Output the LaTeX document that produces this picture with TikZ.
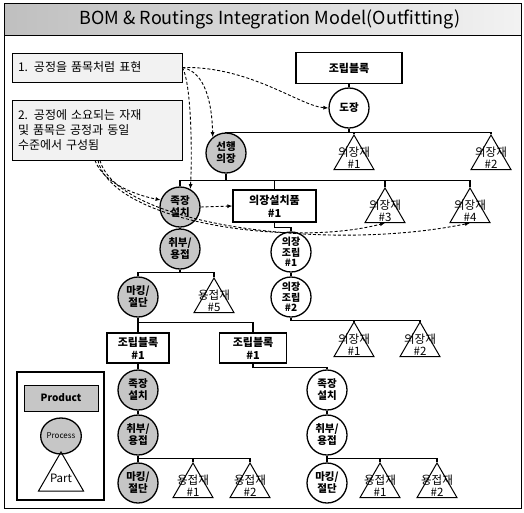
\documentclass[tikz,border=0pt]{standalone}
\usepackage{fontspec}
\setmainfont{Noto Sans CJK KR}
\usetikzlibrary{shapes.geometric,arrows.meta}

\begin{document}
\begin{tikzpicture}[x=1pt,y=-1pt,
  product/.style={draw,line width=1.3pt,fill=white,align=center,inner sep=0pt,
    font=\bfseries\fontsize{11}{13}\selectfont},
  process/.style={circle,draw,line width=1.3pt,fill=white,minimum size=40pt,inner sep=0pt,
    align=center,font=\bfseries\fontsize{10.5}{12}\selectfont},
  shaded/.style={fill=gray!45},
  part/.style={regular polygon,regular polygon sides=3,draw,line width=1pt,minimum size=46pt,
    inner sep=0pt,label={[parttext]center:#1}},
  parttext/.style={align=center,font=\fontsize{11.5}{12}\selectfont},
  note/.style={draw,line width=0.8pt,fill=gray!10,align=left,inner xsep=6pt,
    font=\fontsize{12}{15}\selectfont},
  link/.style={line width=1.1pt},
  hint/.style={dash pattern=on 3pt off 2pt,line width=0.9pt,-{Latex[length=5pt,width=4pt]}}]
  \useasboundingbox (0,0) rectangle (524,512);

  \fill[left color=gray!50,right color=gray!10] (4,3) rectangle (521,35);
  \draw[line width=0.8pt] (4,3) rectangle (521,508);
  \draw[line width=0.8pt] (4,35) -- (521,35);
  \node[font=\fontsize{18}{20}\selectfont] (title) at (270,19) {BOM \& Routings Integration Model(Outfitting)};

  \node[note,minimum width=170pt,minimum height=29pt,text width=158pt] (note1) at (97,67.5)
    {1. 공정을 품목처럼 표현};
  \node[note,minimum width=170pt,minimum height=60pt,text width=158pt] (note2) at (97,130)
    {2. 공정에 소요되는 자재\\및 품목은 공정과 동일\\수준에서 구성됨};

  \node[product,minimum width=106pt,minimum height=31pt] (blk) at (349,68) {조립블록};
  \node[process] (dojang) at (349,108) {도장};
  \node[process,shaded] (sunhaeng) at (226,153) {선행\\의장};
  \node[part={의장재\\\#1}] (u1) at (354,158) {};
  \node[part={의장재\\\#2}] (u2) at (491,158) {};
  \node[process,shaded] (jokjang1) at (180,207) {족장\\설치};
  \node[product,minimum width=83pt,minimum height=32pt] (uisul) at (274.5,206) {의장설치품\\\#1};
  \node[part={의장재\\\#3}] (u3) at (385,211) {};
  \node[part={의장재\\\#4}] (u4) at (470,211) {};
  \node[process,shaded] (chibu1) at (180,249) {취부/\\용접};
  \node[process,font=\bfseries\fontsize{10}{10.5}\selectfont] (uijo1) at (291,252) {의장\\조립\\\#1};
  \node[process,font=\bfseries\fontsize{10}{10.5}\selectfont] (uijo2) at (291,297) {의장\\조립\\\#2};
  \node[part={의장재\\\#1}] (u5) at (354,345) {};
  \node[part={의장재\\\#2}] (u6) at (420,345) {};
  \node[process,shaded] (marking1) at (138,297) {마킹/\\절단};
  \node[part={용접재\\\#5}] (y5) at (214,301) {};
  \node[product,minimum width=62pt,minimum height=30pt] (lblk) at (138,348) {조립블록\\\#1};
  \node[product,minimum width=67pt,minimum height=30pt] (rblk) at (253,348) {조립블록\\\#1};

  \node[process,shaded] (jokjang2) at (138,390) {족장\\설치};
  \node[process,shaded] (chibu2) at (138,435) {취부/\\용접};
  \node[process,shaded] (marking2) at (138,483) {마킹/\\절단};
  \node[part={용접재\\\#1}] (y1) at (193,486) {};
  \node[part={용접재\\\#2}] (y2) at (250,486) {};

  \node[process] (jokjang3) at (327,390) {족장\\설치};
  \node[process] (chibu3) at (327,435) {취부/\\용접};
  \node[process] (marking3) at (327,483) {마킹/\\절단};
  \node[part={용접재\\\#1}] (y3) at (380,486) {};
  \node[part={용접재\\\#2}] (y4) at (437,486) {};

  \draw[link] (blk) -- (dojang);
  \draw[link] (dojang.south) -- ++(0,4) coordinate (b1);
  \draw[link] (sunhaeng.north) |- (b1) -| (u2.north);
  \draw[link] (u1.north) -- (u1.north |- b1);
  \draw[link] (sunhaeng.south) -- ++(0,7) coordinate (b2);
  \draw[link] (jokjang1.north) |- (b2) -| (u4.north);
  \draw[link] (uisul.north) -- (uisul.north |- b2);
  \draw[link] (u3.north) -- (u3.north |- b2);
  \draw[link] (jokjang1) -- (chibu1);
  \draw[link] (uisul.south) -- ++(0,5) -| (uijo1.north);
  \draw[link] (uijo1) -- (uijo2);
  \draw[link] (uijo2.south) -- ++(0,3) coordinate (b3) -| (u6.north);
  \draw[link] (u5.north) -- (u5.north |- b3);
  \draw[link] (chibu1.south) -- ++(0,3) coordinate (b4);
  \draw[link] (marking1.north) |- (b4) -| (y5.north);
  \draw[link] (marking1.south) -- ++(0,5) coordinate (b5);
  \draw[link] (lblk.north) |- (b5) -| (rblk.north);
  \draw[link] (lblk) -- (jokjang2) -- (chibu2);
  \draw[link] (chibu2.south) -- ++(0,3) coordinate (b6);
  \draw[link] (marking2.north) |- (b6) -| (y2.north);
  \draw[link] (y1.north) -- (y1.north |- b6);
  \draw[link] (rblk.south) -- ++(0,4) -| (jokjang3.north);
  \draw[link] (jokjang3) -- (chibu3);
  \draw[link] (chibu3.south) -- ++(0,3) coordinate (b7);
  \draw[link] (marking3.north) |- (b7) -| (y4.north);
  \draw[link] (y3.north) -- (y3.north |- b7);

  \draw[hint] (note1.east) .. controls (250,66) and (300,106) .. (dojang.west);
  \draw[hint] (note1.east) .. controls (206,72) and (212,105) .. (sunhaeng.130);
  \draw[hint] (note1.east) .. controls (192,85) and (192,160) .. (jokjang1.60);
  \draw[hint] ([xshift=-2pt]note2.south) .. controls (104,185) and (140,196) .. (jokjang1.160);
  \draw[hint] ([xshift=1pt]note2.south) .. controls (112,222) and (290,248) .. (u3.south);
  \draw[hint] ([xshift=3pt]note2.south) .. controls (118,226) and (330,252) .. (u4.south);
  \draw[hint] (jokjang1.east) -- (uisul.west);

  \draw[line width=1.6pt] (17,372) rectangle (104,500);
  \node[draw,line width=1pt,shaded,minimum width=74pt,minimum height=26pt,
    font=\bfseries\fontsize{10}{12}\selectfont] (legprod) at (61,398) {Product};
  \node[ellipse,draw,line width=1.3pt,shaded,minimum width=40pt,minimum height=36pt,inner sep=0pt,
    font=\fontsize{8}{9}\selectfont] (legproc) at (61,436) {Process};
  \node[part={Part},minimum size=52pt] (legpart) at (61,478) {};
\end{tikzpicture}
\end{document}
